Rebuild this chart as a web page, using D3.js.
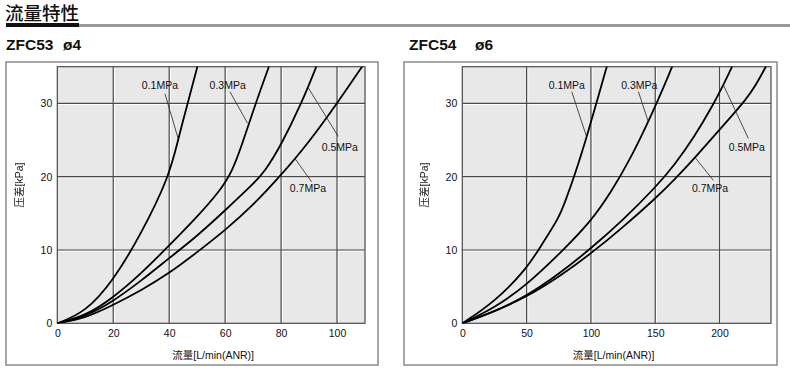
<!DOCTYPE html>
<html><head><meta charset="utf-8">
<script src="https://cdn.jsdelivr.net/npm/d3@7"></script>
<style>body{margin:0;background:#fff}svg{display:block}.ytitle{filter:grayscale(100%)}</style>
</head><body>
<svg id="c" width="790" height="376"></svg>
<script>
// ---------- DATA ----------
const pageTitle = "流量特性";
const xAxisTitle = "流量[L/min(ANR)]";
const yAxisTitle = "压差[kPa]";
const seriesNames = ["0.1MPa", "0.3MPa", "0.5MPa", "0.7MPa"];

// ZFC53 ø4
const zfc53Ticks = [0, 20, 40, 60, 80, 100];
const zfc53YTicks = [0, 10, 20, 30];
const zfc53_01_flow = [0, 10, 20, 30, 40, 43.2, 46.6, 50.2, 52];
const zfc53_01_dp   = [0, 1.5, 5.8, 12.2, 20, 25.1, 30, 35.2, 37.8];
const zfc53_03_flow = [0, 10, 20, 30, 40, 50, 58, 62.3, 66, 70.7, 76.2, 78];
const zfc53_03_dp   = [0, 1.0, 3.5, 6.8, 10.6, 14.5, 18.0, 20.5, 24.3, 29.8, 35.6, 37.5];
const zfc53_05_flow = [0, 10, 20, 30, 40, 50, 60, 70, 74, 80, 87.3, 92.6, 94];
const zfc53_05_dp   = [0, 0.9, 3.0, 5.8, 8.9, 11.9, 15.4, 19.0, 20.6, 24.3, 30, 35, 36.4];
const zfc53_07_flow = [0, 10, 20, 30, 40, 51, 60, 70, 80, 90, 100, 109, 111];
const zfc53_07_dp   = [0, 0.7, 2.5, 4.5, 6.8, 10, 12.7, 16.1, 20.2, 24.7, 30, 35, 36.2];

// ZFC54 ø6
const zfc54Ticks = [0, 50, 100, 150, 200];
const zfc54YTicks = [0, 10, 20, 30];
const zfc54_01_flow = [0, 25, 50, 62, 74.9, 80, 87.6, 96.7, 104.2, 112.3, 114];
const zfc54_01_dp   = [0, 2.9, 7.4, 10.8, 14.3, 16.6, 20.3, 25.4, 30, 35, 36];
const zfc54_03_flow = [0, 25, 50, 78.6, 100, 116, 130, 144.6, 150, 157, 164.3, 166];
const zfc54_03_dp   = [0, 2.1, 5.2, 10, 13.9, 18, 22.2, 27.5, 29.6, 32.4, 35.5, 36.3];
const zfc54_05_flow = [0, 25, 50, 75, 100, 125, 150, 165, 180, 195, 203, 210, 212];
const zfc54_05_dp   = [0, 1.6, 3.7, 6.7, 10.2, 14.1, 18.5, 21.6, 25.3, 29.8, 32.5, 35.1, 35.9];
const zfc54_07_flow = [0, 25, 50, 75, 100, 125, 150, 165, 181, 200, 210, 220, 228, 236, 238];
const zfc54_07_dp   = [0, 1.6, 3.6, 6.3, 9.5, 13.1, 17, 19.6, 22.6, 26.4, 28.4, 30.4, 32.4, 35, 35.7];

// ---------- LAYOUT ----------
const svg = d3.select("#c");
const FONT = "'Liberation Sans', Arial, Helvetica, 'Noto Sans CJK SC', sans-serif";
const CJK = "'Noto Sans CJK SC', 'Noto Sans', sans-serif";

svg.append("rect").attr("x", 79).attr("y", 24).attr("width", 711).attr("height", 3).attr("fill", "#9a9a9a");
svg.append("rect").attr("x", 6).attr("y", 23).attr("width", 73).attr("height", 4).attr("fill", "#111");
svg.append("text").attr("x", 5).attr("y", 20).attr("font-family", CJK).attr("font-size", 18.5)
  .attr("font-weight", 500).attr("fill", "#111").text(pageTitle);

function zip(xs, ys) { return xs.map((x, i) => [x, ys[i]]); }

const charts = [
  {
    id: "a", name: "ZFC53", dia: "ø4", nameX: 6, diaX: 63, xTitleShift: 2,
    panel: [6, 62, 378, 365], plot: [57.3, 66.7, 365, 323.3],
    xDomain: [0, 110], xTicks: zfc53Ticks, yTicks: zfc53YTicks,
    series: [zip(zfc53_01_flow, zfc53_01_dp), zip(zfc53_03_flow, zfc53_03_dp),
             zip(zfc53_05_flow, zfc53_05_dp), zip(zfc53_07_flow, zfc53_07_dp)],
    notes: [
      [[36.7, 32.5], [38.5, 31.3], [43.2, 25.2]],
      [[60.9, 32.5], [61.7, 31.6], [68.0, 27.3]],
      [[101, 24.0], [100.4, 25.5], [89.6, 32.2]],
      [[89.6, 18.4], [90.9, 19.3], [84.9, 22.5]]
    ]
  },
  {
    id: "b", name: "ZFC54", dia: "ø6", nameX: 409, diaX: 475, xTitleShift: -3,
    panel: [404, 62, 777, 365], plot: [462.3, 66.7, 771, 323.3],
    xDomain: [0, 240], xTicks: zfc54Ticks, yTicks: zfc54YTicks,
    series: [zip(zfc54_01_flow, zfc54_01_dp), zip(zfc54_03_flow, zfc54_03_dp),
             zip(zfc54_05_flow, zfc54_05_dp), zip(zfc54_07_flow, zfc54_07_dp)],
    notes: [
      [[81.2, 32.5], [85.1, 31.6], [96.7, 25.4]],
      [[137.6, 32.5], [136.9, 31.6], [144.6, 27.5]],
      [[221.2, 24.0], [222.4, 25.2], [203, 32.5]],
      [[192.6, 18.4], [195.2, 19.5], [181, 22.6]]
    ]
  }
];

charts.forEach(c => {
  const [px0, py0, px1, py1] = c.panel;
  const [l, t, r, b] = c.plot;
  const x = d3.scaleLinear().domain(c.xDomain).range([l, r]);
  const y = d3.scaleLinear().domain([0, 35]).range([b, t]);
  const g = svg.append("g");

  g.append("text").attr("x", c.nameX).attr("y", 50).attr("font-family", FONT).attr("font-weight", "bold")
    .attr("font-size", 15.5).attr("fill", "#111").text(c.name);
  g.append("text").attr("x", c.diaX).attr("y", 50).attr("font-family", FONT).attr("font-weight", "bold")
    .attr("font-size", 15.5).attr("fill", "#111").text(c.dia);

  g.append("rect").attr("x", px0).attr("y", py0).attr("width", px1 - px0).attr("height", py1 - py0)
    .attr("fill", "#fff").attr("stroke", "#8a8a8a").attr("stroke-width", 1.5);

  g.append("rect").attr("x", l).attr("y", t).attr("width", r - l).attr("height", b - t).attr("fill", "#e8e8e8");

  const gx = c.xTicks.filter(v => v > 0);
  const gy = c.yTicks.filter(v => v > 0);
  g.selectAll(".gvw").data(gx).join("line").attr("x1", d => x(d) + 1.2).attr("x2", d => x(d) + 1.2)
    .attr("y1", t).attr("y2", b).attr("stroke", "#fff").attr("stroke-width", 1);
  g.selectAll(".ghw").data(gy).join("line").attr("y1", d => y(d) + 1.2).attr("y2", d => y(d) + 1.2)
    .attr("x1", l).attr("x2", r).attr("stroke", "#fff").attr("stroke-width", 1);
  g.selectAll(".gv").data(gx).join("line").attr("x1", d => x(d)).attr("x2", d => x(d))
    .attr("y1", t).attr("y2", b).attr("stroke", "#4a4a4a").attr("stroke-width", 1.2);
  g.selectAll(".gh").data(gy).join("line").attr("y1", d => y(d)).attr("y2", d => y(d))
    .attr("x1", l).attr("x2", r).attr("stroke", "#4a4a4a").attr("stroke-width", 1.2);
  g.append("rect").attr("x", l).attr("y", t).attr("width", r - l).attr("height", b - t)
    .attr("fill", "none").attr("stroke", "#4a4a4a").attr("stroke-width", 1.2);

  const xa = g.append("g").attr("transform", `translate(0,${b})`)
    .call(d3.axisBottom(x).tickValues(c.xTicks).tickSize(0).tickPadding(6).tickFormat(d3.format("d")));
  const ya = g.append("g").attr("transform", `translate(${l},0)`)
    .call(d3.axisLeft(y).tickValues(c.yTicks).tickSize(0).tickPadding(5).tickFormat(d3.format("d")));
  [xa, ya].forEach(a => {
    a.select(".domain").remove();
    a.selectAll("text").attr("font-family", FONT).attr("font-size", 10.5).attr("fill", "#111");
  });

  g.append("text").attr("x", (l + r) / 2 + c.xTitleShift).attr("y", 359).attr("text-anchor", "middle")
    .attr("font-family", FONT).attr("font-size", 10.5).attr("fill", "#111").text(xAxisTitle);
  g.append("text").attr("class", "ytitle").attr("transform", `translate(${l - 34},${(t + b) / 2 - 10}) rotate(-90)`)
    .attr("text-anchor", "middle").attr("font-family", FONT).attr("font-size", 10.5).attr("fill", "#222")
    .text(yAxisTitle);

  svg.append("defs").append("clipPath").attr("id", "clip-" + c.id)
    .append("rect").attr("x", l).attr("y", t).attr("width", r - l).attr("height", b - t);

  const line = d3.line().x(d => x(d[0])).y(d => y(d[1])).curve(d3.curveBasis);
  g.append("g").attr("clip-path", `url(#clip-${c.id})`)
    .selectAll("path").data(c.series).join("path").attr("d", line)
    .attr("fill", "none").attr("stroke", "#000").attr("stroke-width", 1.8);

  c.notes.forEach((n, i) => {
    g.append("line").attr("x1", x(n[1][0])).attr("y1", y(n[1][1])).attr("x2", x(n[2][0])).attr("y2", y(n[2][1]))
      .attr("stroke", "#222").attr("stroke-width", 0.8);
    g.append("text").attr("x", x(n[0][0])).attr("y", y(n[0][1])).attr("dy", "0.35em").attr("text-anchor", "middle")
      .attr("font-family", FONT).attr("font-size", 10.5).attr("fill", "#111").text(seriesNames[i]);
  });
});
</script>
</body></html>
